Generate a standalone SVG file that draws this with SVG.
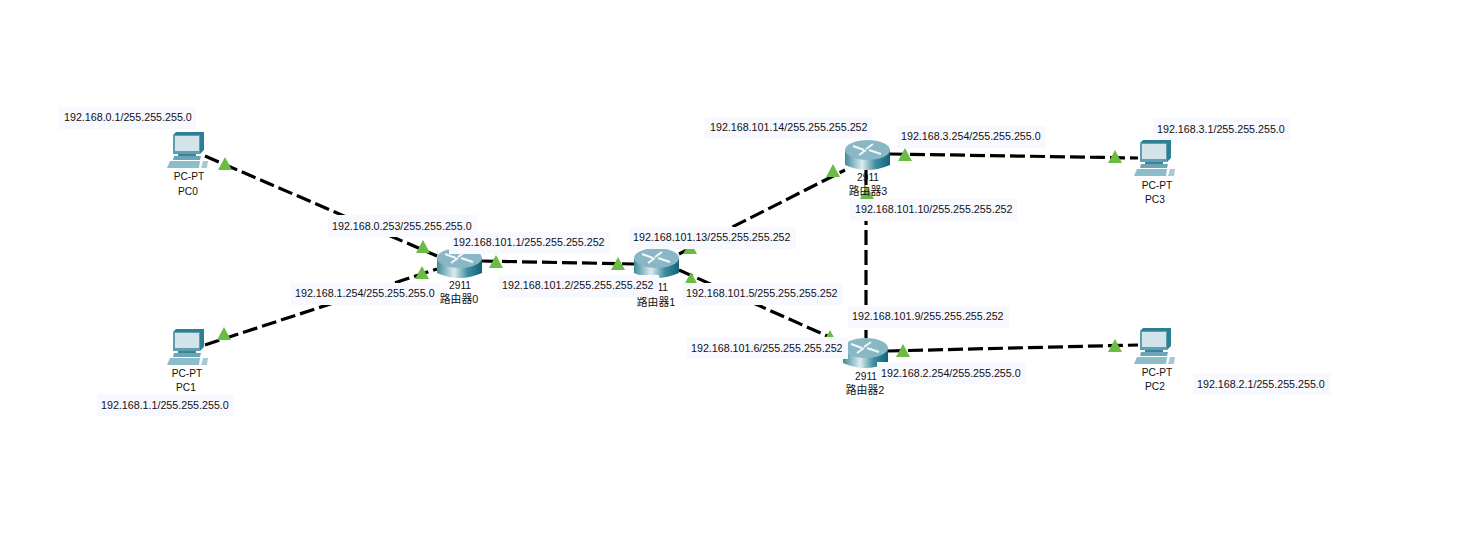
<svg xmlns="http://www.w3.org/2000/svg" width="1468" height="548" viewBox="0 0 1468 548">
<style>
text{font-family:"Liberation Sans",Arial,"Noto Sans CJK SC",sans-serif;font-size:10.7px;fill:#111}
.c{text-anchor:middle;font-size:10.2px}
.z{text-anchor:middle;font-size:10.8px}
.l{fill:#f8f8ff}
.w{stroke:#000;stroke-width:3.2;stroke-dasharray:15 5;fill:none}
.t{fill:#6cbb45}
</style>
<defs>
<linearGradient id="cyl" x1="0" x2="1" y1="0" y2="0">
<stop offset="0" stop-color="#3f8a9c"/><stop offset=".38" stop-color="#dcecef"/><stop offset=".68" stop-color="#3f8ea0"/><stop offset="1" stop-color="#12637a"/>
</linearGradient>
<g id="pc">
<path d="M6 3l3-3h28v18l-4 4H6z" fill="#2d7f94"/>
<path d="M6 3h27v19H6z" fill="#5f9fb1"/>
<rect x="8" y="4" width="24" height="15" fill="#d3e3ea"/>
<path d="M11 22h18v2H11z" fill="#3b8398"/>
<path d="M7 24h27l-1 4H6z" fill="#6aa6b7"/>
<path d="M3 29h30l-1 7H0z" fill="#8dbccb"/>
<path d="M34 36l2-7h5l-1 7z" fill="#a8c8d2"/>
</g>
<g id="router">
<path d="M0 10v15q22 10 45 0V10z" fill="url(#cyl)"/>
<ellipse cx="22.500" cy="10" rx="22.500" ry="10" fill="#8ab7c6"/>
<path d="M8 6l11 4M14 15l7-5M28 4l-7 5M24 10l12 4" stroke="#f2f8fa" stroke-width="2" fill="none"/>
</g>
<path id="tri" class="t" d="M0-7l7 13H-7z"/>
</defs>
<g id="connectors">
<path class="w" d="M205 156L437 256"/>
<path class="w" d="M205 345L437 269"/>
<path class="w" d="M482 261L634 264"/>
<path class="w" d="M679 254L845 170"/>
<path class="w" d="M679 270L843 343"/>
<path class="w" d="M866 170V338"/>
<path class="w" d="M890 154L1138 158"/>
<path class="w" d="M888 351L1138 345"/>
</g>
<g id="link-markers">
<use href="#tri" x="225" y="164"/><use href="#tri" x="423" y="247"/>
<use href="#tri" x="224" y="334"/><use href="#tri" x="422" y="273"/>
<use href="#tri" x="496" y="262"/><use href="#tri" x="618" y="264"/>
<use href="#tri" x="690" y="248"/><use href="#tri" x="833" y="171"/>
<use href="#tri" x="691" y="279"/><use href="#tri" x="830" y="337"/>
<use href="#tri" x="867" y="193"/>
<use href="#tri" x="905" y="155"/><use href="#tri" x="1115" y="157"/>
<use href="#tri" x="903" y="351"/><use href="#tri" x="1115" y="346"/>
</g>
<g id="pc0"><use href="#pc" x="167" y="132"/><text class="c" x="189" y="180">PC-PT</text><text class="c" x="188" y="195">PC0</text></g>
<g id="pc1"><use href="#pc" x="167" y="329"/><text class="c" x="187" y="377">PC-PT</text><text class="c" x="186" y="391">PC1</text></g>
<g id="pc2"><use href="#pc" x="1134" y="328"/><text class="c" x="1157" y="376">PC-PT</text><text class="c" x="1155" y="390">PC2</text></g>
<g id="pc3"><use href="#pc" x="1134" y="140"/><text class="c" x="1157" y="189">PC-PT</text><text class="c" x="1155" y="203">PC3</text></g>
<g id="router0"><use href="#router" x="437" y="248"/><text class="c" x="460" y="289">2911</text><text class="z" x="459" y="303">路由器0</text></g>
<g id="router1"><use href="#router" x="634" y="248"/><text class="c" x="657" y="291">2911</text><text class="z" x="656" y="306">路由器1</text></g>
<g id="router3"><use href="#router" x="845" y="140"/><text class="c" x="868" y="181">2911</text><text class="z" x="868" y="195">路由器3</text></g>
<g id="router2"><use href="#router" x="843" y="338"/><text class="c" x="866" y="380">2911</text><text class="z" x="865" y="394">路由器2</text></g>
<g id="labels">
<rect class="l" x="59" y="107" width="137" height="22"/><text x="64" y="121">192.168.0.1/255.255.255.0</text>
<rect class="l" x="328" y="215" width="149" height="22"/><text x="332" y="230">192.168.0.253/255.255.255.0</text>
<rect class="l" x="291" y="283" width="149" height="22"/><text x="295" y="297">192.168.1.254/255.255.255.0</text>
<rect class="l" x="97" y="394" width="137" height="22"/><text x="101" y="409">192.168.1.1/255.255.255.0</text>
<rect class="l" x="449" y="232" width="161" height="22"/><text x="453" y="246">192.168.101.1/255.255.255.252</text>
<rect class="l" x="498" y="275" width="161" height="22"/><text x="502" y="289">192.168.101.2/255.255.255.252</text>
<rect class="l" x="629" y="227" width="167" height="22"/><text x="633" y="241">192.168.101.13/255.255.255.252</text>
<rect class="l" x="682" y="283" width="161" height="22"/><text x="686" y="297">192.168.101.5/255.255.255.252</text>
<rect class="l" x="705" y="117" width="167" height="22"/><text x="710" y="131">192.168.101.14/255.255.255.252</text>
<rect class="l" x="897" y="126" width="149" height="22"/><text x="901" y="140">192.168.3.254/255.255.255.0</text>
<rect class="l" x="850" y="199" width="167" height="22"/><text x="855" y="213">192.168.101.10/255.255.255.252</text>
<rect class="l" x="848" y="306" width="161" height="22"/><text x="852" y="320">192.168.101.9/255.255.255.252</text>
<rect class="l" x="687" y="337" width="161" height="22"/><text x="691" y="352">192.168.101.6/255.255.255.252</text>
<rect class="l" x="877" y="362" width="149" height="22"/><text x="881" y="377">192.168.2.254/255.255.255.0</text>
<rect class="l" x="1153" y="118" width="137" height="22"/><text x="1157" y="133">192.168.3.1/255.255.255.0</text>
<rect class="l" x="1193" y="373" width="137" height="22"/><text x="1197" y="388">192.168.2.1/255.255.255.0</text>
</g>
</svg>
